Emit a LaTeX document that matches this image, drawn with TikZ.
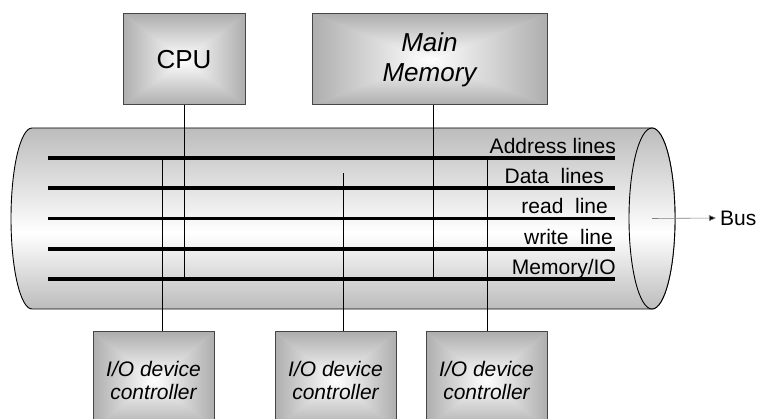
\documentclass[tikz,border=0pt]{standalone}
\usepackage{fontspec}
\setmainfont{Liberation Sans}
\usetikzlibrary{arrows.meta}

\definecolor{edgegray}{RGB}{174,174,174}
\definecolor{cylgray}{RGB}{188,188,188}
\definecolor{boxline}{RGB}{70,70,70}

% vertical shading of the bus cylinder: grey at top and bottom, white below the middle
\pgfdeclareverticalshading{cylfill}{100bp}{%
  color(0bp)=(cylgray); color(25bp)=(cylgray); color(46bp)=(white);
  color(75bp)=(cylgray); color(100bp)=(cylgray)}

\newcommand{\titlefont}{\fontsize{26}{30}\selectfont}
\newcommand{\labelfont}{\fontsize{21}{23}\selectfont}

\tikzset{
  % rectangular gradient: white in the centre, grey towards every edge
  centreshade/.style={path picture={
    \fill[edgegray!60!white] (path picture bounding box.south west) rectangle (path picture bounding box.north east);
    \begin{scope}
      \clip (path picture bounding box.north west) -- (path picture bounding box.north east) -- (path picture bounding box.center) -- cycle;
      \shade[top color=edgegray, bottom color=white] (path picture bounding box.north west) rectangle (path picture bounding box.east);
    \end{scope}
    \begin{scope}
      \clip (path picture bounding box.south west) -- (path picture bounding box.south east) -- (path picture bounding box.center) -- cycle;
      \shade[top color=white, bottom color=edgegray] (path picture bounding box.west) rectangle (path picture bounding box.south east);
    \end{scope}
    \begin{scope}
      \clip (path picture bounding box.north west) -- (path picture bounding box.south west) -- (path picture bounding box.center) -- cycle;
      \shade[left color=edgegray, right color=white] (path picture bounding box.north west) rectangle (path picture bounding box.south);
    \end{scope}
    \begin{scope}
      \clip (path picture bounding box.north east) -- (path picture bounding box.south east) -- (path picture bounding box.center) -- cycle;
      \shade[left color=white, right color=edgegray] (path picture bounding box.north) rectangle (path picture bounding box.south east);
    \end{scope}
  }},
  unitbox/.style={rectangle, draw=boxline, line width=1pt, centreshade,
    inner sep=0pt, align=center},
  mainunit/.style={unitbox, minimum height=91pt, font=\titlefont},
  iounit/.style={unitbox, minimum width=121pt, minimum height=96pt,
    font=\labelfont\itshape},
  busline/.style={line width=3.4pt, line cap=butt},
  tap/.style={line width=0.9pt},
  linelabel/.style={anchor=base east, inner sep=0pt, font=\labelfont},
  cylinder outline/.style={line width=0.9pt},
  busarrow/.style={draw=gray, line width=0.6pt,
    -{Triangle[length=7pt, width=6pt, fill=black]}}
}

\begin{document}
\begin{tikzpicture}[x=1pt, y=-1pt]
  \useasboundingbox (0,0) rectangle (758,419);
  \clip (0,0) rectangle (758,419);

  % bus body and its open right end
  \shade[shading=cylfill, draw=black, cylinder outline]
    (32,128) -- (652,128)
    arc[start angle=-90, end angle=90, x radius=23, y radius=90.5]
    -- (32,309)
    arc[start angle=90, end angle=270, x radius=21, y radius=90.5]
    -- cycle;
  \shade[shading=cylfill, draw=black, cylinder outline]
    (652,218.5) ellipse[x radius=23, y radius=90.5];

  % units
  \node[mainunit, minimum width=122pt] (cpu) at (184,59.5) {CPU};
  \node[mainunit, minimum width=235pt, font=\titlefont\itshape] (mem) at (429.5,59.5)
    {Main\\Memory};
  \node[iounit] (io1) at (153.5,380) {I/O device\\controller};
  \node[iounit] (io2) at (335.5,380) {I/O device\\controller};
  \node[iounit] (io3) at (486.5,380) {I/O device\\controller};

  % bus lines
  \foreach \n/\y in {1/158, 2/188, 3/218.5, 4/249, 5/279} {
    \coordinate (w\n) at (48,\y);
    \coordinate (e\n) at (615,\y);
    \draw[busline] (w\n) -- (e\n);
  }

  \node[linelabel] (lab1) at (616,153.5) {Address lines};
  \node[linelabel] (lab2) at (604,183.5) {Data~~lines};
  \node[linelabel] (lab3) at (608,214) {read~~line};
  \node[linelabel] (lab4) at (613,244.5) {write~~line};
  \node[linelabel] (lab5) at (616,274.5) {Memory/IO};

  % connections of the units to the bus
  \coordinate (memtap) at (433,105);
  \coordinate (t1) at (162,158);
  \coordinate (t2) at (343,173);
  \coordinate (t3) at (487,158);
  \draw[tap] (cpu.south) -- (cpu.south |- w5);
  \draw[tap] (memtap) -- (memtap |- w5);
  \draw[tap] (t1) -- (t1 |- io1.north);
  \draw[tap] (t2) -- (t2 |- io2.north);
  \draw[tap] (t3) -- (t3 |- io3.north);

  % bus caption
  \coordinate (busaxis) at (652,218.5);
  \node[anchor=west, inner sep=0pt, font=\labelfont] (bus) at (720,218) {Bus};
  \draw[busarrow] (busaxis) -- ([xshift=-4pt]bus.west);
\end{tikzpicture}
\end{document}
